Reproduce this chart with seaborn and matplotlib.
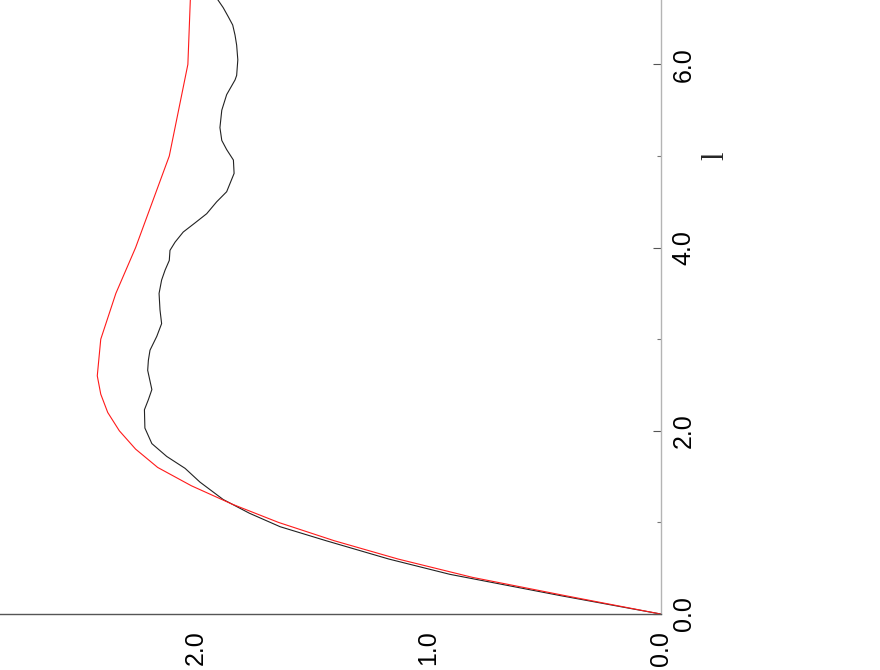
import matplotlib
matplotlib.use("Agg")
import matplotlib.pyplot as plt
import numpy as np
import pandas as pd
import seaborn as sns

# red (smooth) curve: l along the vertical axis, value along the horizontal axis
L_RED = [0.0, 0.2, 0.4, 0.6, 0.8, 1.0, 1.2, 1.4, 1.6, 1.8, 2.0, 2.2, 2.4, 2.6,
         3.0, 3.5, 4.0, 5.0, 6.0, 7.0]
G_RED = [0.0, 0.41, 0.81, 1.13, 1.405, 1.645, 1.845, 2.02, 2.165, 2.26, 2.33,
         2.38, 2.41, 2.425, 2.41, 2.345, 2.26, 2.115, 2.035, 2.02]

# black (noisy) curve
L_BLACK = [0.0, 0.2, 0.433, 0.6, 0.8, 0.953, 1.1, 1.25, 1.44, 1.59, 1.72, 1.86,
           2.03, 2.23, 2.34, 2.45, 2.66, 2.77, 2.88, 3.03, 3.17, 3.32, 3.50,
           3.646, 3.755, 3.86, 3.97, 4.06, 4.17, 4.27, 4.37, 4.50, 4.61, 4.81,
           4.956, 5.07, 5.17, 5.31, 5.50, 5.67, 5.83, 5.88, 6.05, 6.21, 6.32,
           6.43, 6.52, 6.62, 6.72]
G_BLACK = [0.0, 0.43, 0.907, 1.17, 1.44, 1.638, 1.77, 1.883, 1.983, 2.047, 2.126,
           2.19, 2.22, 2.222, 2.205, 2.19, 2.208, 2.205, 2.198, 2.169, 2.148,
           2.155, 2.159, 2.148, 2.133, 2.115, 2.112, 2.09, 2.055, 2.004, 1.954,
           1.911, 1.868, 1.836, 1.839, 1.868, 1.889, 1.897, 1.889, 1.868, 1.832,
           1.825, 1.82, 1.825, 1.832, 1.842, 1.861, 1.883, 1.91]

L_MAJOR = [0.0, 2.0, 4.0, 6.0]
L_MINOR = [1.0, 3.0, 5.0]
G_MAJOR = [0.0, 1.0, 2.0]
G_MINOR = [0.5, 1.5, 2.5]


def main() -> None:
    sns.set_style("white")
    plt.rcParams["font.family"] = ["Liberation Sans", "DejaVu Sans"]

    fig = plt.figure(figsize=(8.8, 6.7), dpi=100)
    ax = fig.add_axes([0.0, 56 / 670, 660.6 / 880, 614 / 670])

    red = pd.DataFrame({"l": L_RED, "g": G_RED})
    black = pd.DataFrame({"l": L_BLACK, "g": G_BLACK})
    sns.lineplot(data=black, x="g", y="l", sort=False, estimator=None,
                 color="#222222", linewidth=0.8, ax=ax)
    sns.lineplot(data=red, x="g", y="l", sort=False, estimator=None,
                 color="#ff1a1a", linewidth=0.8, ax=ax)

    ax.set_xlim(660.6 / 232.3, 0.0)
    ax.set_ylim(0.0, 614 / 91.6)

    for side in ["left", "top"]:
        ax.spines[side].set_visible(False)
    ax.spines["right"].set_color("#b4b4b4")
    ax.spines["right"].set_linewidth(1.0)
    ax.spines["bottom"].set_color("#555555")
    ax.spines["bottom"].set_linewidth(1.0)

    ax.yaxis.tick_right()
    ax.yaxis.set_label_position("right")
    ax.set_yticks(L_MAJOR)
    ax.set_yticks(L_MINOR, minor=True)
    ax.set_yticklabels([f"{v:.1f}" for v in L_MAJOR], rotation=90, va="center")
    ax.set_xticks(G_MAJOR)
    ax.set_xticks(G_MINOR, minor=True)
    ax.set_xticklabels([f"{v:.1f}" for v in G_MAJOR], rotation=90)

    ax.tick_params(axis="both", which="major", direction="in", length=6,
                   width=0.8, color="#555555", labelsize=18, labelcolor="black")
    ax.tick_params(axis="both", which="minor", direction="in", length=3,
                   width=0.8, color="#777777")
    ax.tick_params(axis="y", which="major", pad=8)
    ax.tick_params(axis="x", which="major", pad=12)

    ax.set_xlabel("")
    ax.set_ylabel("l", rotation=90, fontsize=22, family=["Liberation Serif"])
    ax.yaxis.set_label_coords(701 / 660.6, (614 - 156) / 614)

    fig.savefig("out.png", dpi=100)
    plt.close(fig)


if __name__ == "__main__":
    main()
